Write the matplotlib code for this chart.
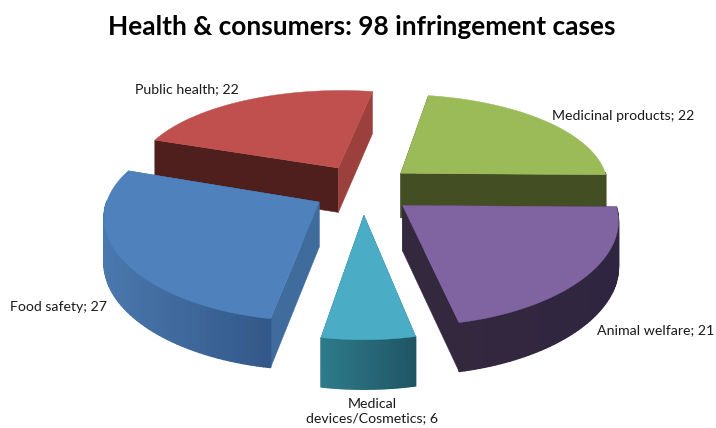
import numpy as np
import matplotlib
matplotlib.use('Agg')
import matplotlib.pyplot as plt
from matplotlib.colors import to_rgb

plt.rcParams['font.family'] = ['Lato', 'DejaVu Sans']

title = 'Health & consumers: 98 infringement cases'
# clockwise from the top of the pie
labels = ['Medicinal products', 'Animal welfare', 'Medical\ndevices/Cosmetics', 'Food safety', 'Public health']
values = [22, 21, 6, 27, 22]

top_colors = ['#9BBB59', '#8064A2', '#4BACC6', '#4F81BD', '#C0504D']
rim_left = ['#434F22', '#34283F', '#2F7C8C', '#4A78AE', '#9B403C']
rim_right = ['#434F22', '#2F2540', '#1F5565', '#34588A', '#9B403C']
face_start = ['#434F22', '#34283F', '#2A6F80', '#3F6C9C', '#4F1F1D']
face_end = ['#434F22', '#34283F', '#1F5565', '#3F6C9C', '#9B403C']
label_pos = [(552, 116, 'left'), (597, 330, 'left'), (372, 411, 'center'), (10, 307, 'left'), (135, 89, 'left')]

# fake 3d view
start_angle = 10
center = (363, 189)
radius = 209
explode_x = 50
explode_y = 55
tilt = 0.458
persp_x = 0.0006
persp_y = 0.00075
depth = 45
draw_order = [4, 0, 3, 1, 2]


def project(x, y):
    sx = 1 / (1 + persp_x * y)
    sy = 1 / (1 + persp_y * y)
    # side walls grow slower than the plane towards the viewer
    h = depth * (1 + (sy - 1) * 0.4)
    return center[0] + x * sx, center[1] - y * tilt * sy, h


def mix(c1, c2, t):
    return tuple((1 - t) * a + t * b for a, b in zip(to_rgb(c1), to_rgb(c2)))


fig = plt.figure(figsize=(7.16, 4.28), dpi=100)
ax = fig.add_axes([0, 0, 1, 1])
ax.set_xlim(0, 716)
ax.set_ylim(428, 0)
ax.axis('off')

edges = start_angle + np.cumsum([0] + values) / sum(values) * 360

for n, i in enumerate(draw_order):
    a0, a1 = edges[i], edges[i + 1]
    mid = np.radians((a0 + a1) / 2)
    ox, oy = explode_x * np.sin(mid), explode_y * np.cos(mid)
    th = np.radians(np.linspace(a0, a1, 60))
    px, py, ph = project(ox + radius * np.sin(th), oy + radius * np.cos(th))
    cx, cy, ch = project(ox, oy)
    z = n * 10

    # the two cut faces
    ax.fill([cx, px[0], px[0], cx], [cy, py[0], py[0] + ph[0], cy + ch],
            color=face_start[i], lw=0.3, zorder=z + 1)
    ax.fill([cx, px[-1], px[-1], cx], [cy, py[-1], py[-1] + ph[-1], cy + ch],
            color=face_end[i], lw=0.3, zorder=z + 1)

    # outer rim, strip by strip so it can shade across; the back part is hidden
    for j in range(len(th) - 1):
        if np.cos(th[j]) > 0 and np.cos(th[j + 1]) > 0:
            continue
        t = (px[j] - px.min()) / (px.max() - px.min())
        c = mix(rim_left[i], rim_right[i], t)
        ax.fill([px[j], px[j + 1], px[j + 1], px[j]],
                [py[j], py[j + 1], py[j + 1] + ph[j + 1], py[j] + ph[j]],
                color=c, lw=1.0, zorder=z + 2)

    # top
    ax.fill(np.r_[cx, px], np.r_[cy, py], color=top_colors[i], lw=0.3, zorder=z + 3)

for i in range(len(labels)):
    x, y, ha = label_pos[i]
    ax.text(x, y, '%s; %d' % (labels[i], values[i]), ha=ha, va='center', fontsize=10.2,
            color='#1a1a1a', linespacing=1.3, zorder=100)

ax.text(362, 27, title, ha='center', va='center', fontsize=18.9, fontweight='bold', color='black')

fig.savefig('out.png', dpi=100, facecolor='white')
